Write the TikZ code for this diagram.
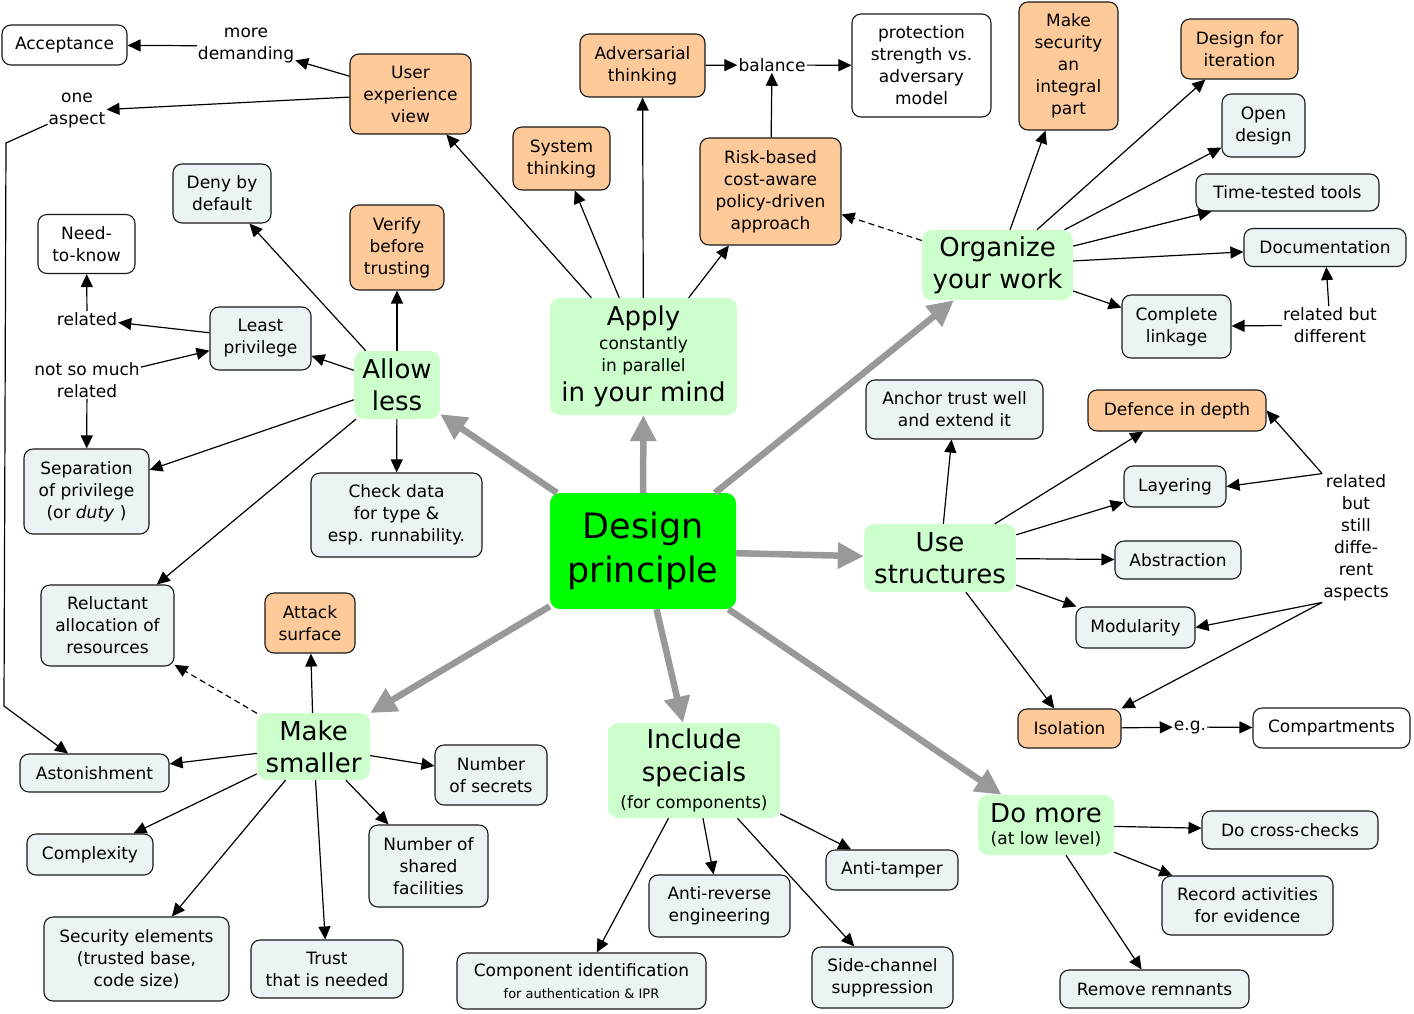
\documentclass[tikz,border=0pt]{standalone}
\usepackage{fontspec}
\setmainfont{DejaVu Sans}
\usetikzlibrary{arrows.meta}
\definecolor{orng}{RGB}{255,202,153}
\definecolor{blg}{RGB}{235,243,245}
\definecolor{lgr}{RGB}{204,255,204}
\definecolor{bgr}{RGB}{0,255,0}
\definecolor{gra}{RGB}{153,153,153}
\definecolor{edg}{RGB}{25,25,25}
\newcommand{\nf}{\fontsize{17}{22}\selectfont}
\newcommand{\bfn}{\fontsize{26}{32}\selectfont}
\newcommand{\hfn}{\fontsize{35}{44}\selectfont}
\newcommand{\sfn}{\fontsize{13}{16}\selectfont}
\tikzset{
  sz/.style 2 args={minimum width=#1pt, minimum height=#2pt},
  base/.style={rounded corners=9pt, inner sep=0pt, align=center, font=\nf},
  ob/.style={base, draw=edg, line width=1.1pt, fill=orng},
  bb/.style={base, draw=edg, line width=1.1pt, fill=blg},
  wb/.style={base, draw=edg, line width=1.1pt, fill=white},
  gb/.style={base, fill=lgr, rounded corners=10pt},
  lbl/.style={inner sep=1pt, align=center, font=\nf},
  arr/.style={-{Triangle[length=13pt,width=12pt]}, line width=1.2pt, draw=black},
  darr/.style={arr, dash pattern=on 6pt off 4pt},
  garr/.style={-{Triangle[length=26pt,width=25pt]}, line width=6.5pt, draw=gra},
}
\begin{document}
\begin{tikzpicture}[x=1pt, y=-1pt]
\useasboundingbox (0,0) rectangle (1414,1013);
% ---------- nodes ----------
\node[wb, sz={125}{40}] (acc) at (64.5,45) {Acceptance};
\node[lbl] (md) at (246,46) {more\\demanding};
\node[ob, sz={121}{80}] (ux) at (410.5,94) {User\\experience\\view};
\node[lbl] (oa) at (77,111) {one\\aspect};
\node[bb, sz={98}{59}] (deny) at (222,193.5) {Deny by\\default};
\node[wb, sz={97}{59}] (ntk) at (86.5,244) {Need-\\to-know};
\node[ob, sz={94}{85}] (ver) at (397,247.5) {Verify\\before\\trusting};
\node[ob, sz={97}{63}] (sys) at (561.5,158.5) {System\\thinking};
\node[ob, sz={125}{63}] (adv) at (642.5,65.5) {Adversarial\\thinking};
\node[lbl] (bal) at (772,65) {balance};
\node[wb, sz={139}{103}] (prot) at (921.5,65.5) {protection\\strength vs.\\adversary\\model};
\node[ob, sz={141}{107}] (risk) at (770.5,191.5) {Risk-based\\cost-aware\\policy-driven\\approach};
\node[ob, sz={99}{128}] (msec) at (1068.5,66) {Make\\security\\an\\integral\\part};
\node[ob, sz={117}{60}] (dfi) at (1239.5,49) {Design for\\iteration};
\node[bb, sz={83}{63}] (open) at (1263.5,125.5) {Open\\design};
\node[bb, sz={183}{37}] (ttt) at (1287.5,192.5) {Time-tested tools};
\node[bb, sz={162}{38}] (doc) at (1325,247.5) {Documentation};
\node[bb, sz={109}{63}] (cl) at (1176.5,326.5) {Complete\\linkage};
\node[lbl] (rbd) at (1330,325) {related but\\different};
\node[gb, sz={151}{70}, font=\bfn] (org) at (997.5,265) {Organize\\your work};
\node[gb, sz={187}{117}] (apply) at (643.5,356.5)
  {{\bfn Apply}\\[2pt]{\nf constantly}\\{\nf in parallel}\\[6pt]{\bfn in your mind}};
\node[gb, sz={86}{68}, font=\bfn] (allow) at (397,385) {Allow\\less};
\node[bb, sz={101}{63}] (lp) at (260.5,338.5) {Least\\privilege};
\node[lbl] (rel) at (87,319) {related};
\node[lbl] (nsm) at (87,380) {not so much\\related};
\node[bb, sz={125}{85}] (sep) at (86.5,491.5) {Separation\\of privilege\\(or \textit{duty} )};
\node[bb, sz={171}{84}] (chk) at (396.5,515) {Check data\\for type \&\\esp. runnability.};
\node[bb, sz={133}{81}] (rel2) at (107.5,625.5) {Reluctant\\allocation of\\resources};
\node[base, fill=bgr, sz={186}{116}, font=\hfn, rounded corners=10pt] (dp) at (643,551) {Design\\principle};
\node[bb, sz={177}{59}] (anc) at (954.5,409.5) {Anchor trust well\\and extend it};
\node[ob, sz={178}{41}] (def) at (1177,410.5) {Defence in depth};
\node[bb, sz={102}{41}] (lay) at (1175,486.5) {Layering};
\node[bb, sz={126}{38}] (abs) at (1178,560) {Abstraction};
\node[bb, sz={119}{41}] (mod) at (1135.5,627.5) {Modularity};
\node[lbl] (rbs) at (1356,538) {related\\but\\still\\diffe-\\rent\\aspects};
\node[gb, sz={152}{68}, font=\bfn] (use) at (940,558) {Use\\structures};
\node[ob, sz={103}{39}] (iso) at (1069.5,728.5) {Isolation};
\node[lbl] (eg) at (1190,727) {e.g.};
\node[wb, sz={157}{40}] (comp) at (1331.5,728) {Compartments};
\node[gb, sz={136}{60}] (dom) at (1046,825) {{\bfn Do more}\\{\nf (at low level)}};
\node[bb, sz={176}{38}] (dcc) at (1290,830) {Do cross-checks};
\node[bb, sz={171}{59}] (rec) at (1247.5,905.5) {Record activities\\for evidence};
\node[bb, sz={189}{38}] (rem) at (1154.5,989) {Remove remnants};
\node[gb, sz={172}{95}] (inc) at (694,770.5) {{\bfn Include}\\[11pt]{\bfn specials}\\[5pt]{\nf (for components)}};
\node[bb, sz={132}{40}] (at) at (892,870) {Anti-tamper};
\node[bb, sz={141}{62}] (arev) at (719.5,906) {Anti-reverse\\engineering};
\node[bb, sz={141}{61}] (side) at (882.5,977.5) {Side-channel\\suppression};
\node[bb, sz={249}{56}] (cid) at (581.5,981) {Component identification\\{\sfn for authentication \& IPR}};
\node[gb, sz={113}{67}, font=\bfn] (ms) at (313.5,746.5) {Make\\smaller};
\node[ob, sz={90}{60}] (atk) at (310,623) {Attack\\surface};
\node[bb, sz={112}{60}] (nos) at (491,775) {Number\\of secrets};
\node[bb, sz={119}{82}] (nsf) at (428.5,866) {Number of\\shared\\facilities};
\node[bb, sz={149}{38}] (ast) at (94.5,773) {Astonishment};
\node[bb, sz={126}{41}] (cpx) at (90,854.5) {Complexity};
\node[bb, sz={185}{84}] (sec) at (136.5,959) {Security elements\\(trusted base,\\code size)};
\node[bb, sz={152}{58}] (tru) at (327,969) {Trust\\that is needed};
\coordinate (oa1) at (6,143);
\coordinate (oa2) at (4,706);
% ---------- gray arrows ----------
\draw[garr] (dp) -- (allow);
\draw[garr] (dp) -- (apply);
\draw[garr] (dp) -- (org);
\draw[garr] (dp) -- (use);
\draw[garr] (dp) -- (dom);
\draw[garr] (dp) -- (inc);
\draw[garr] (dp) -- (ms);
% ---------- black arrows ----------
\draw[arr] (ux) -- (md);
\draw[arr] (md) -- (acc);
\draw[arr] (ux) -- (oa);
\draw[arr] (oa) -- (oa1) -- (oa2) -- (ast);
\draw[arr] (apply) -- (ux);
\draw[arr] (apply) -- (sys);
\draw[arr] (apply) -- (adv);
\draw[arr] (apply) -- (risk);
\draw[arr] (adv) -- (bal);
\draw[arr] (bal) -- (prot);
\draw[arr] (risk) -- (bal);
\draw[darr] (org) -- (risk);
\draw[arr] (org) -- (msec);
\draw[arr] (org) -- (dfi);
\draw[arr] (org) -- (open);
\draw[arr] (org) -- (ttt);
\draw[arr] (org) -- (doc);
\draw[arr] (org) -- (cl);
\draw[arr] (rbd) -- (doc);
\draw[arr] (rbd) -- (cl);
\draw[arr] (allow) -- (deny);
\draw[arr] (allow) -- (ver);
\draw[arr] (allow) -- (lp);
\draw[arr] (lp) -- (rel);
\draw[arr] (rel) -- (ntk);
\draw[arr] (nsm) -- (lp);
\draw[arr] (nsm) -- (sep);
\draw[arr] (allow) -- (sep);
\draw[arr] (allow) -- (chk);
\draw[arr] (allow) -- (rel2);
\draw[darr] (ms) -- (rel2);
\draw[arr] (ms) -- (atk);
\draw[arr] (ms) -- (ast);
\draw[arr] (ms) -- (nos);
\draw[arr] (ms) -- (cpx);
\draw[arr] (ms) -- (sec);
\draw[arr] (ms) -- (tru);
\draw[arr] (ms) -- (nsf);
\draw[arr] (inc) -- (cid);
\draw[arr] (inc) -- (arev);
\draw[arr] (inc) -- (side);
\draw[arr] (inc) -- (at);
\draw[arr] (dom) -- (dcc);
\draw[arr] (dom) -- (rec);
\draw[arr] (dom) -- (rem);
\draw[arr] (use) -- (anc);
\draw[arr] (use) -- (def);
\draw[arr] (use) -- (lay);
\draw[arr] (use) -- (abs);
\draw[arr] (use) -- (mod);
\draw[arr] (use) -- (iso);
\draw[arr] (iso) -- (eg);
\draw[arr] (eg) -- (comp);
\draw[arr] (rbs.north west) -- (def.east);
\draw[arr] (rbs.north west) -- (lay.east);
\draw[arr] (rbs.south west) -- (mod.east);
\draw[arr] (rbs.south west) -- (iso.north east);
\end{tikzpicture}
\end{document}
